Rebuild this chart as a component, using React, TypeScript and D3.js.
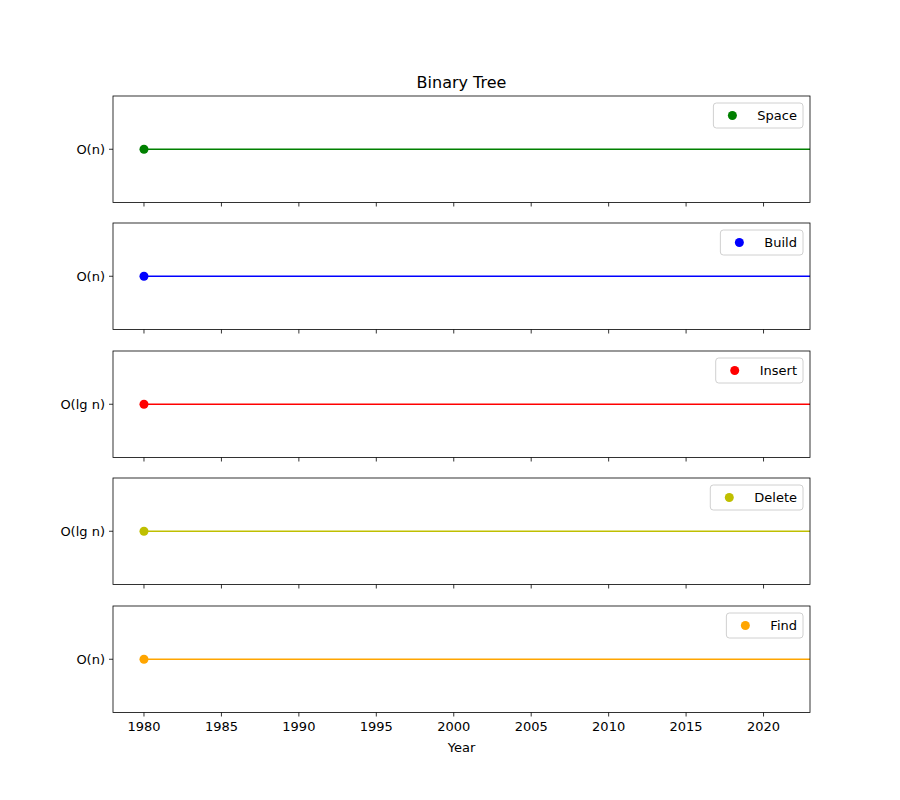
import React from 'react';
import * as d3 from 'd3';

const panels = ['Space', 'Build', 'Insert', 'Delete', 'Find'];
const complexities = ['O(n)', 'O(n)', 'O(lg n)', 'O(lg n)', 'O(n)'];
const colors = ['green', 'blue', 'red', '#bfbf00', 'orange'];
const years = [1980, 2023];
const xTicks = [1980, 1985, 1990, 1995, 2000, 2005, 2010, 2015, 2020];

const W = 900, H = 800;
const left = 113, right = 810;
const tops = [96, 223, 351, 478, 606];
const ph = 106.5;
const font = 'DejaVu Sans, sans-serif';

const measure = (s: string) => {
  const ctx = document.createElement('canvas').getContext('2d');
  if (!ctx) return s.length * 8;
  ctx.font = `13px ${font}`;
  return ctx.measureText(s).width;
};

export default function App() {
  const x = d3.scaleLinear().domain([1978, 2023]).range([left, right]);
  return (
    <svg width={W} height={H} style={{ display: 'block', margin: -8 }} fontFamily={font}>
      <rect width={W} height={H} fill="white" />
      <text x={(left + right) / 2} y={88} textAnchor="middle" fontSize={16}>Binary Tree</text>
      {panels.map((name, i) => {
        const top = tops[i];
        const y = d3.scalePoint().domain([complexities[i]]).range([top + ph, top]).padding(0.5);
        const yy = y(complexities[i])!;
        const last = i === panels.length - 1;
        const lw = measure(name) + 50;
        return (
          <g key={name}>
            <line x1={x(years[0])} x2={x(years[1])} y1={yy} y2={yy} stroke={colors[i]} strokeWidth={1.5} />
            <circle cx={x(years[0])} cy={yy} r={4.5} fill={colors[i]} />
            <rect x={left} y={top} width={right - left} height={ph} fill="none" stroke="black" strokeWidth={0.8} />
            <line x1={left - 4} x2={left} y1={yy} y2={yy} stroke="black" strokeWidth={0.8} />
            <text x={left - 8} y={yy} dy="0.35em" textAnchor="end" fontSize={13}>{complexities[i]}</text>
            {xTicks.map(t => (
              <line key={t} x1={x(t)} x2={x(t)} y1={top + ph} y2={top + ph + 4} stroke="black" strokeWidth={0.8} />
            ))}
            {last && xTicks.map(t => (
              <text key={t} x={x(t)} y={top + ph + 18} textAnchor="middle" fontSize={13}>{t}</text>
            ))}
            <g transform={`translate(${right - 7 - lw},${top + 7})`}>
              <rect width={lw} height={25} rx={3} fill="white" stroke="#d0d0d0" />
              <circle cx={19} cy={12.5} r={4.5} fill={colors[i]} />
              <text x={lw - 6} y={12} dy="0.35em" textAnchor="end" fontSize={13}>{name}</text>
            </g>
          </g>
        );
      })}
      <text x={(left + right) / 2} y={752} textAnchor="middle" fontSize={13}>Year</text>
    </svg>
  );
}
